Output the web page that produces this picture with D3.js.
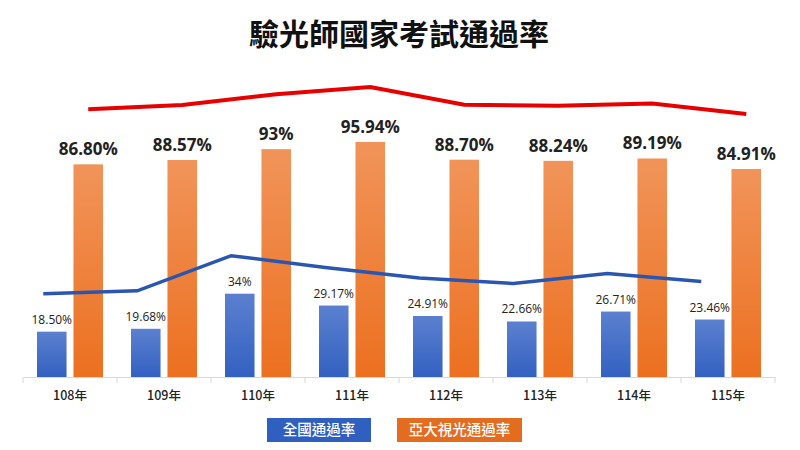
<!DOCTYPE html>
<html>
<head>
<meta charset="utf-8">
<script src="https://cdn.jsdelivr.net/npm/d3@7"></script>
<style>
  body { margin: 0; background: #fff; }
  svg { font-family: "Noto Sans CJK TC", "Noto Sans", sans-serif; }
</style>
</head>
<body>
<div id="chart-area"></div>
<script>
// data
let years = ["108年", "109年", "110年", "111年", "112年", "113年", "114年", "115年"];
let nationalRate = [18.50, 19.68, 34, 29.17, 24.91, 22.66, 26.71, 23.46];
let schoolRate = [86.80, 88.57, 93, 95.94, 88.70, 88.24, 89.19, 84.91];
let nationalLabels = ["18.50%", "19.68%", "34%", "29.17%", "24.91%", "22.66%", "26.71%", "23.46%"];
let schoolLabels = ["86.80%", "88.57%", "93%", "95.94%", "88.70%", "88.24%", "89.19%", "84.91%"];
let legendNames = ["全國通過率", "亞大視光通過率"];

let width = 800, height = 450;
let margin = {top: 132, left: 23, right: 25, bottom: 73};

let svg = d3.select("#chart-area").append("svg")
  .attr("width", width)
  .attr("height", height);

// gradients for bars
let defs = svg.append("defs");
function grad(id, c1, c2) {
  let g = defs.append("linearGradient").attr("id", id)
    .attr("x1", 0).attr("y1", 0).attr("x2", 0).attr("y2", 1);
  g.append("stop").attr("offset", "0%").attr("stop-color", c1);
  g.append("stop").attr("offset", "100%").attr("stop-color", c2);
}
grad("gBlue", "#5b80cf", "#3361c1");
grad("gOrange", "#f1945a", "#ec7020");

let x = d3.scaleBand()
  .domain(years)
  .range([margin.left, width - margin.right]);

let inner = d3.scaleBand()
  .domain(["national", "school"])
  .range([14, x.bandwidth() - 14])
  .paddingInner(0.19);

let y = d3.scaleLinear()
  .domain([0, 100])
  .range([height - margin.bottom, height - margin.bottom - 245]);

// title
svg.append("text")
  .attr("x", 399)
  .attr("y", 45)
  .attr("text-anchor", "middle")
  .attr("font-size", 30)
  .attr("font-weight", 700)
  .attr("fill", "#111")
  .text("驗光師國家考試通過率");

// axis
let xAxis = d3.axisBottom(x).tickSize(0).tickPadding(14);
let axisG = svg.append("g")
  .attr("class", "axis x-axis")
  .attr("transform", "translate(0," + y(0) + ")")
  .call(xAxis);
axisG.select(".domain").attr("stroke", "#d9d9d9");
axisG.selectAll("text")
  .attr("font-size", 12.5)
  .attr("font-weight", 500)
  .attr("fill", "#222")
  .attr("font-family", "\"Noto Sans CJK TC\", sans-serif");
// separators between categories
axisG.selectAll(".sep")
  .data(years.concat(["end"]))
  .enter()
  .append("line")
  .attr("x1", (d, i) => margin.left + i * x.step())
  .attr("x2", (d, i) => margin.left + i * x.step())
  .attr("y1", 0)
  .attr("y2", 6)
  .attr("stroke", "#d9d9d9");

// bars
svg.selectAll(".barN")
  .data(nationalRate)
  .enter()
  .append("rect")
  .attr("x", (d, i) => x(years[i]) + inner("national"))
  .attr("y", d => y(d))
  .attr("width", inner.bandwidth())
  .attr("height", d => y(0) - y(d))
  .attr("fill", "url(#gBlue)");

svg.selectAll(".barS")
  .data(schoolRate)
  .enter()
  .append("rect")
  .attr("x", (d, i) => x(years[i]) + inner("school"))
  .attr("y", d => y(d))
  .attr("width", inner.bandwidth())
  .attr("height", d => y(0) - y(d))
  .attr("fill", "url(#gOrange)");

// labels
svg.selectAll(".labN")
  .data(nationalRate)
  .enter()
  .append("text")
  .attr("x", (d, i) => x(years[i]) + inner("national") + inner.bandwidth() / 2)
  .attr("y", d => y(d) - 8)
  .attr("text-anchor", "middle")
  .attr("font-size", 12)
  .attr("font-family", "\"Open Sans\", sans-serif")
  .attr("fill", "#222")
  .text((d, i) => nationalLabels[i]);

svg.selectAll(".labS")
  .data(schoolRate)
  .enter()
  .append("text")
  .attr("x", (d, i) => x(years[i]) + inner("school") + inner.bandwidth() / 2)
  .attr("y", d => y(d) - 9)
  .attr("text-anchor", "middle")
  .attr("font-size", 17)
  .attr("font-weight", 700)
  .attr("font-family", "\"Open Sans\", sans-serif")
  .attr("fill", "#222")
  .text((d, i) => schoolLabels[i]);

// trend lines drawn above the bars
let lineN = d3.line()
  .x((d, i) => x(years[i]) + inner("national") + inner.bandwidth() / 2 - 8.5)
  .y(d => y(d) - 38);
svg.append("path")
  .datum(nationalRate)
  .attr("d", lineN)
  .attr("fill", "none")
  .attr("stroke", "#2a56b0")
  .attr("stroke-width", 3.5);

let lineS = d3.line()
  .x((d, i) => x(years[i]) + inner("school") + inner.bandwidth() / 2)
  .y(d => y(d) - 55);
svg.append("path")
  .datum(schoolRate)
  .attr("d", lineS)
  .attr("fill", "none")
  .attr("stroke", "#e60000")
  .attr("stroke-width", 4);

// legend
let legendX = [267, 397], legendW = [104, 125];
let legendC = ["#2f5fbf", "#e46c1e"];
let leg = svg.selectAll(".legend")
  .data(legendNames)
  .enter()
  .append("g")
  .attr("transform", (d, i) => "translate(" + legendX[i] + ",418)");
leg.append("rect")
  .attr("width", (d, i) => legendW[i])
  .attr("height", 24)
  .attr("fill", (d, i) => legendC[i]);
leg.append("text")
  .attr("x", (d, i) => legendW[i] / 2)
  .attr("y", 17)
  .attr("text-anchor", "middle")
  .attr("font-size", 14.5)
  .attr("font-weight", 500)
  .attr("fill", "#fff")
  .text(d => d);
</script>
</body>
</html>
